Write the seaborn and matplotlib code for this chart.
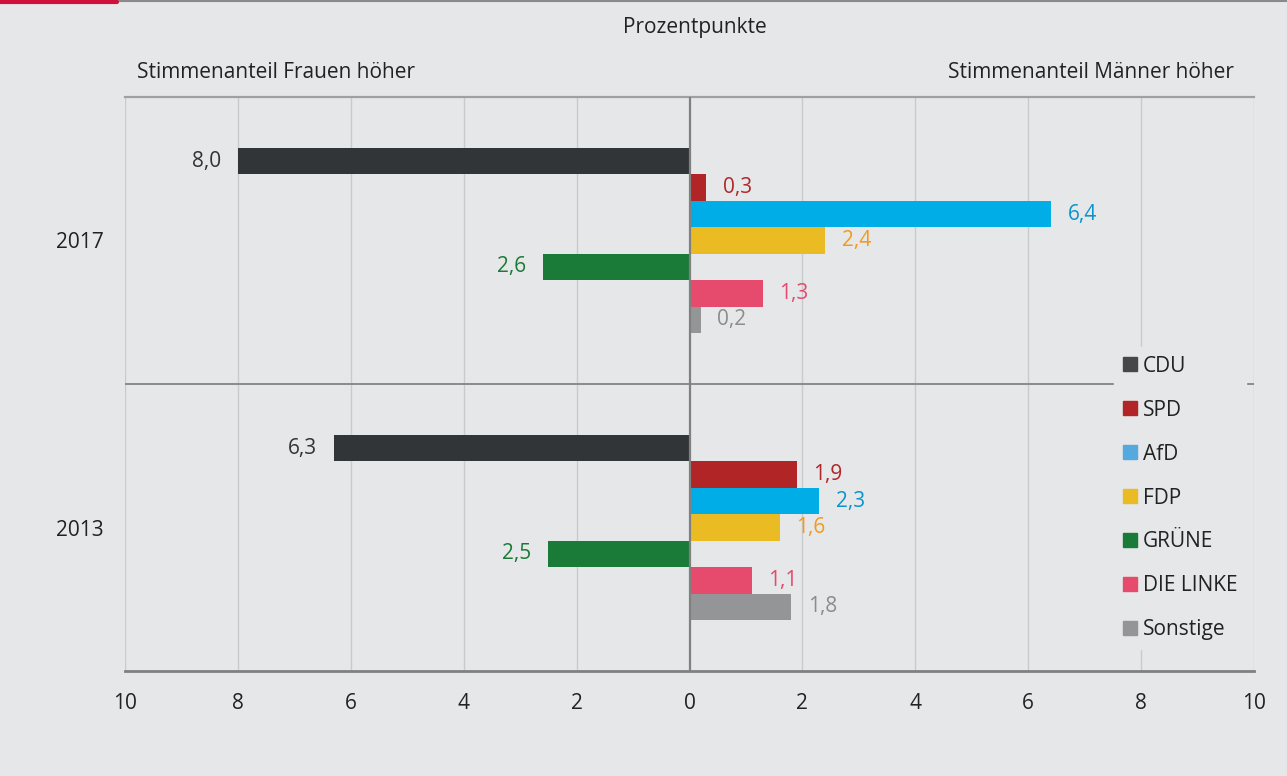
import numpy as np
import pandas as pd
import seaborn as sns
import matplotlib.pyplot as plt
from matplotlib.lines import Line2D

years = ['2017', '2013']
parties = ['CDU', 'SPD', 'AfD', 'FDP', 'GRÜNE', 'DIE LINKE', 'Sonstige']
# negative = women's share higher, positive = men's share higher
diff_2017 = [-8.0, 0.3, 6.4, 2.4, -2.6, 1.3, 0.2]
diff_2013 = [-6.3, 1.9, 2.3, 1.6, -2.5, 1.1, 1.8]

bar_colors = ['#323538', '#b12526', '#00ade6', '#ebbb24', '#1a7a37', '#e64b6e', '#939597']
label_colors = ['#333333', '#b0272a', '#0a93cf', '#f39a1e', '#1b7a36', '#e5496d', '#8c8c8c']
legend_colors = ['#464749', '#b12526', '#56a9de', '#ebbb24', '#1a7a37', '#e64b6e', '#939597']

bg = '#e6e7e9'
tick_vals = [-10, -8, -6, -4, -2, 0, 2, 4, 6, 8, 10]
tick_labels = ['10', '8', '6', '4', '2', '0', '2', '4', '6', '8', '10']

df = pd.DataFrame({
    'year': np.repeat(years, len(parties)),
    'party': parties * 2,
    'value': diff_2017 + diff_2013,
})

sns.set_theme(style='white')
plt.rcParams['font.family'] = ['Open Sans', 'DejaVu Sans']
plt.rcParams['text.color'] = '#222222'
fs = 15

fig = plt.figure(figsize=(12.87, 7.76), dpi=100, facecolor=bg)
ax = fig.add_axes([125 / 1287, 1 - 671 / 776, (1254 - 125) / 1287, (671 - 97) / 776])
ax.set_facecolor(bg)

sns.barplot(data=df, x='value', y='year', hue='party', hue_order=parties,
            order=years, palette=bar_colors, orient='h', width=0.645,
            linewidth=0, saturation=1, legend=False, ax=ax)

ax.set_xlim(-10, 10)
ax.set_ylim(1.5, -0.5)
for t in tick_vals:
    if t != 0:
        ax.axvline(t, color='#c9cacc', lw=1, zorder=0)
ax.axvline(0, color='#808080', lw=1.6, zorder=3)
ax.axhline(0.5, color='#8a8a8a', lw=1.4, zorder=1)

for s in ['left', 'right']:
    ax.spines[s].set_visible(False)
ax.spines['top'].set_color('#a0a0a0')
ax.spines['top'].set_linewidth(1.6)
ax.spines['bottom'].set_color('#808080')
ax.spines['bottom'].set_linewidth(2)

ax.set_xticks(tick_vals)
ax.set_xticklabels(tick_labels, fontsize=fs, color='#222222')
ax.tick_params(axis='x', direction='out', length=7, width=1, color='#999999', pad=9)
ax.tick_params(axis='y', length=0, pad=15.5, labelsize=fs, labelcolor='#222222')
ax.set_xlabel('')
ax.set_ylabel('')

for i, cont in enumerate(ax.containers):
    labels = [f'{abs(v):.1f}'.replace('.', ',') for v in cont.datavalues]
    ax.bar_label(cont, labels=labels, padding=12, fontsize=fs, color=label_colors[i])

fig.text(695 / 1287, 1 - 27 / 776, 'Prozentpunkte', ha='center', va='center', fontsize=fs)
fig.text(137 / 1287, 1 - 72 / 776, 'Stimmenanteil Frauen höher', ha='left', va='center', fontsize=fs)
fig.text(1234 / 1287, 1 - 72 / 776, 'Stimmenanteil Männer höher', ha='right', va='center', fontsize=fs)

handles = [Line2D([], [], marker='s', linestyle='', markersize=9.5, color=c) for c in legend_colors]
leg = fig.legend(handles, parties, loc='center left', bbox_to_anchor=(1114 / 1287, 1 - 498 / 776),
                 frameon=True, facecolor=bg, edgecolor=bg, framealpha=1, fontsize=fs,
                 handlelength=0.7, handletextpad=0.3, labelspacing=1.1, borderpad=0.4,
                 borderaxespad=0, fancybox=False)
for t in leg.get_texts():
    t.set_color('#222222')

fig.add_artist(Line2D([117 / 1287, 1], [0.999, 0.999], color='#8a8a8a', lw=1.5))
fig.add_artist(Line2D([0, 117 / 1287], [0.998, 0.998], color='#d0103a', lw=3))

fig.savefig('out.png', dpi=100, facecolor=bg)
